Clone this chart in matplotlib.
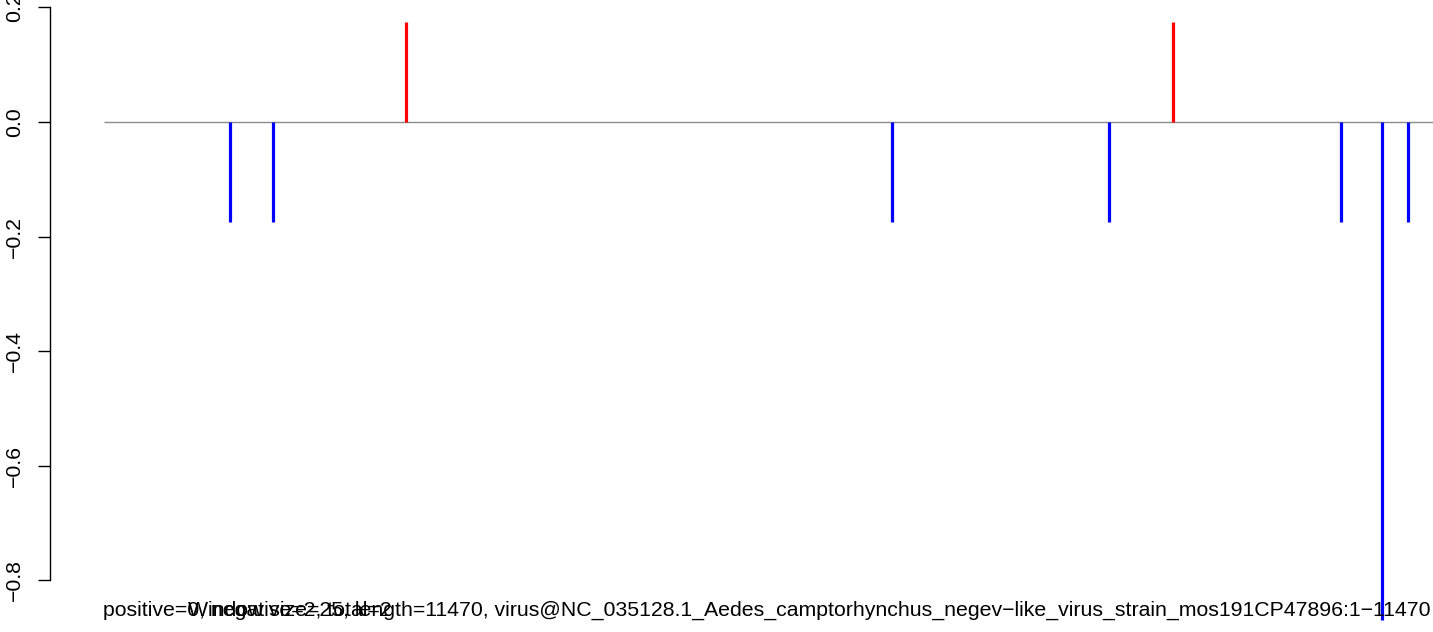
import matplotlib
matplotlib.use("Agg")
import matplotlib.pyplot as plt

# data
positions = [1071, 1437, 2568, 6701, 8546, 9090, 10519, 10867, 11088]
values = [-0.174, -0.174, 0.174, -0.174, -0.174, 0.174, -0.174, -0.87, -0.174]
seq_length = 11470
yticks = [-0.8, -0.6, -0.4, -0.2, 0.0, 0.2]
ytick_labels = ["\u22120.8", "\u22120.6", "\u22120.4", "\u22120.2", "0.0", "0.2"]
summary_text = "positive=0, negative=2, total=2"
info_text = ("Window size=25, length=11470, "
             "virus@NC_035128.1_Aedes_camptorhynchus_negev\u2212like_virus_strain_mos191CP47896:1\u221211470")

W, H = 1433, 632
fig = plt.figure(figsize=(W / 100, H / 100), dpi=100)
ax = fig.add_axes([50 / W, 0, 1 - 50 / W, 1])
ax.set_xlim(-459, 11301)
ax.set_ylim(-0.8908, 0.2131)

ax.hlines(0, 0, seq_length, colors="#8c8c8c", lw=1.0, zorder=1)
colors = ["#FF0000" if v > 0 else "#0000FF" for v in values]
ax.vlines(positions, 0, values, colors=colors, lw=2.3, zorder=2)

for s in ["top", "right", "bottom"]:
    ax.spines[s].set_visible(False)
ax.spines["left"].set_bounds(-0.8, 0.2)
ax.spines["left"].set_linewidth(1.0)
ax.set_xticks([])
ax.set_yticks(yticks)
ax.set_yticklabels(ytick_labels, rotation=90, va="center",
                   fontfamily="Liberation Sans", fontsize=15.3)
ax.tick_params(axis="y", length=8.6, width=1.0, pad=10)
ax.patch.set_visible(False)

fig.text(103 / W, 1 - 616 / H, summary_text, ha="left", va="baseline",
         fontfamily="Liberation Sans", fontsize=15.3)
fig.text(1431 / W, 1 - 616 / H, info_text, ha="right", va="baseline",
         fontfamily="Liberation Sans", fontsize=15.3)

fig.savefig("out.png", dpi=100, facecolor="white")
